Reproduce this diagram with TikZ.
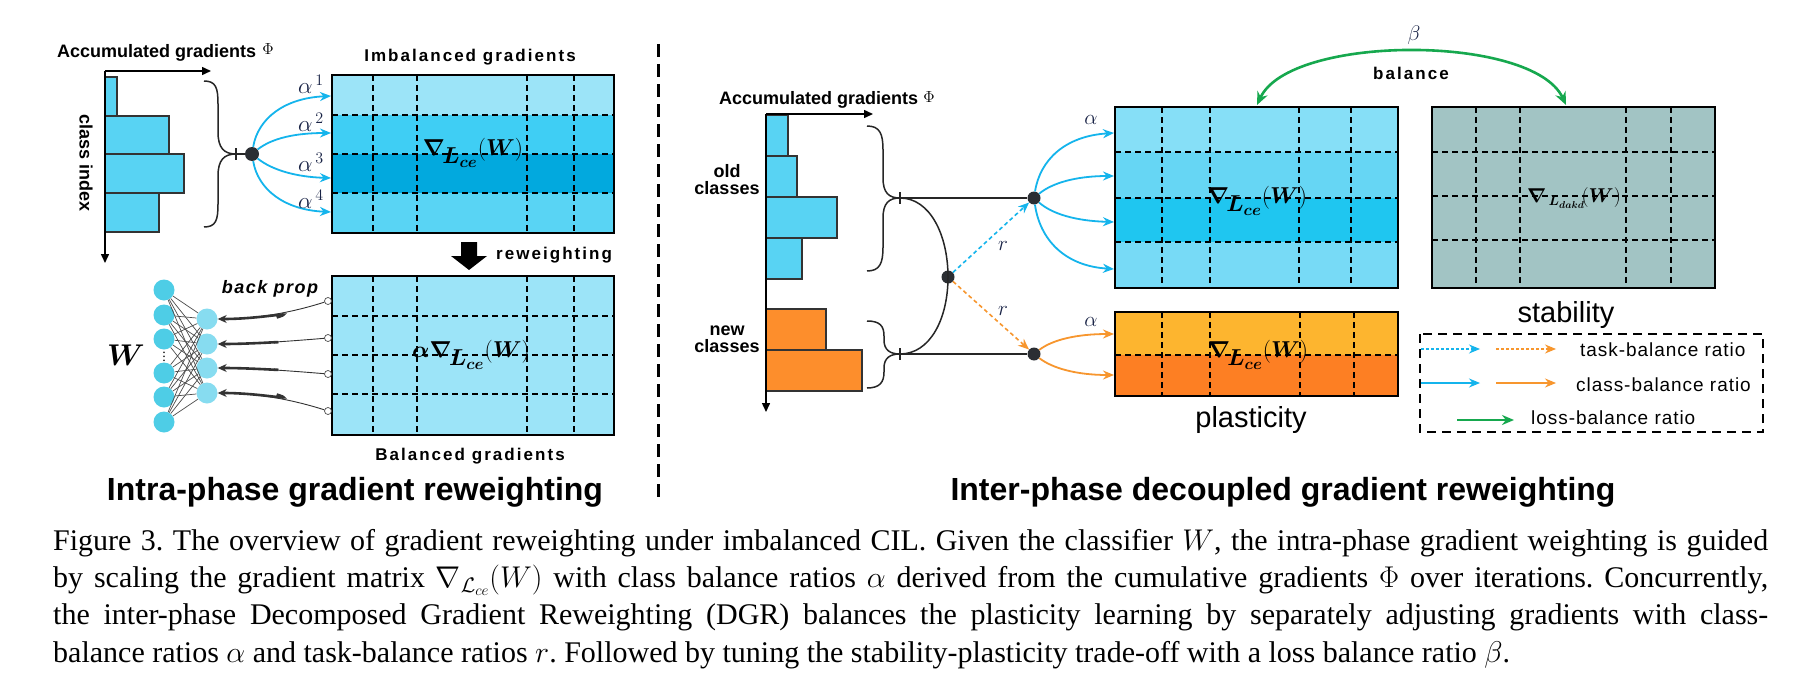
\RequirePackage{fix-cm}
\documentclass[tikz,border=0pt]{standalone}
\usepackage{amsmath,amssymb}
\usepackage{fontspec}
\setmainfont{Liberation Serif}
\setsansfont{Liberation Sans}
\usetikzlibrary{arrows.meta,calc}
\definecolor{cblue}{RGB}{20,180,236}
\definecolor{corange}{RGB}{247,150,46}
\definecolor{cgreen}{RGB}{22,168,78}
\definecolor{hblue}{RGB}{88,211,243}
\definecolor{horange}{RGB}{253,142,44}
\definecolor{dotc}{RGB}{43,46,51}
\definecolor{la}{RGB}{156,228,248}
\definecolor{lb}{RGB}{63,206,244}
\definecolor{lc}{RGB}{2,169,222}
\definecolor{ld}{RGB}{89,212,244}
\definecolor{ra}{RGB}{134,223,247}
\definecolor{rb}{RGB}{102,214,244}
\definecolor{rc}{RGB}{31,198,240}
\definecolor{rd}{RGB}{119,218,246}
\definecolor{oa}{RGB}{253,181,47}
\definecolor{ob}{RGB}{253,127,35}
\definecolor{gmat}{RGB}{162,196,196}
\definecolor{nin}{RGB}{78,205,230}
\definecolor{nout}{RGB}{135,220,240}
\definecolor{lbl}{RGB}{25,35,70}
\newcommand\fsz[1]{\fontsize{#1}{#1}\selectfont}
\newcommand\lsp{\addfontfeature{LetterSpace=12}}
\newcommand\gradsub{_{\!\textstyle\boldsymbol{L}_{\boldsymbol{ce}}}}
\newcommand\gradce{$\boldsymbol{\nabla}\gradsub(\boldsymbol{W})$}
\begin{document}
\begin{tikzpicture}[x=1pt,y=-1pt,
  mat/.style={draw=black, line width=2.6pt, inner sep=0pt, outer sep=0pt, anchor=north west, minimum width=282pt},
  grd/.style={black, line width=1.4pt, dash pattern=on 6pt off 4pt},
  hbar/.style={draw=black!80, line width=1.4pt},
  dotn/.style={circle, fill=dotc, inner sep=0pt, minimum size=13pt},
  conn/.style={black!85, line width=1.5pt},
  brace/.style={black!85, line width=1.5pt},
  axisarr/.style={black, line width=1.5pt, -{Triangle[length=9pt,width=8pt]}},
  barr/.style={cblue, line width=1.8pt, -{Stealth[length=11pt,width=9pt]}},
  oarr/.style={corange, line width=1.8pt, -{Stealth[length=11pt,width=9pt]}},
  bdash/.style={cblue, line width=1.6pt, dash pattern=on 4pt off 3pt, -{Stealth[length=11pt,width=9pt]}},
  odash/.style={corange, line width=1.6pt, dash pattern=on 4pt off 3pt, -{Stealth[length=11pt,width=9pt]}},
  garr/.style={cgreen, line width=2.6pt, {Stealth[length=13pt,width=11pt]}-{Stealth[length=13pt,width=11pt]}},
  netl/.style={black!70, line width=0.7pt},
  bparr/.style={black!80, line width=0.9pt, -{Stealth[length=9pt,width=8pt]}},
  bpthick/.style={black!80, line width=2.6pt, shorten <=50pt, shorten >=6pt},
  hd/.style={font=\sffamily\bfseries\fsz{17}\lsp, inner sep=0pt},
  mlab/.style={text=lbl, inner sep=0pt, font=\fsz{23}},
  mtx/.style={inner sep=0pt, font=\fsz{23}},
  legtxt/.style={font=\sffamily\fsz{19}\addfontfeature{LetterSpace=5}, inner sep=0pt, anchor=base west}
]
\useasboundingbox[fill=white] (0,0) rectangle (1804,677);

%================ LEFT PANEL =================
\draw[hbar, fill=hblue] (105,77) rectangle (117,116);
\draw[hbar, fill=hblue] (105,116) rectangle (169,154);
\draw[hbar, fill=hblue] (105,154) rectangle (184,193);
\draw[hbar, fill=hblue] (105,193) rectangle (159,232);
\coordinate (O0) at (105,71);
\coordinate (X0) at (211,71);
\coordinate (Y0) at (105,263);
\draw[axisarr] (O0) -- (X0);
\draw[axisarr] (O0) -- (Y0);
\node[font=\sffamily\bfseries\fsz{18}, inner sep=0pt, anchor=base west] (acc1) at (57,58) {Accumulated gradients};
\node[inner sep=0pt, font=\fsz{16}] (phi1) at (268,49) {$\Phi$};
\node[font=\sffamily\bfseries\fsz{18}, inner sep=0pt, rotate=-90] (ci) at (86,163) {class index};
\coordinate (T0) at (236,154);
\draw[brace] (204,81) .. controls (216,81) and (218,88) .. (218,104) -- (218,132) .. controls (218,148) and (224,154) .. (T0)
  .. controls (224,154) and (218,160) .. (218,176) -- (218,204) .. controls (218,220) and (216,227) .. (204,227);
\draw[brace] (236,148) -- (236,160);
\node[dotn, minimum size=14pt] (D1) at (252,154) {};
\draw[conn] (T0) -- (D1);
% top matrix
\fill[la] (332,75) rectangle (614,115);
\fill[lb] (332,115) rectangle (614,154);
\fill[lc] (332,154) rectangle (614,193);
\fill[ld] (332,193) rectangle (614,233);
\foreach \yy in {115,154,193} \draw[grd] (332,\yy) -- (614,\yy);
\foreach \xx in {373,417,527,574} \draw[grd] (\xx,75) -- (\xx,233);
\node[mat, minimum height=158pt] (M1) at (332,75) {};
\node[hd, anchor=base] (imb) at (470,62) {Imbalanced gradients};
\node[mtx] (g1) at (473,153) {\gradce};
\coordinate (a1) at (331,96);
\coordinate (a2) at (331,133);
\coordinate (a3) at (331,178);
\coordinate (a4) at (331,212);
\draw[barr] (D1) .. controls (258,118) and (285,98) .. (a1);
\draw[barr] (D1) .. controls (272,138) and (296,133) .. (a2);
\draw[barr] (D1) .. controls (272,170) and (296,177) .. (a3);
\draw[barr] (D1) .. controls (258,190) and (285,210) .. (a4);
\node[mlab] (al1) at (311,84) {$\alpha^{\,1}$};
\node[mlab] (al2) at (311,122) {$\alpha^{\,2}$};
\node[mlab] (al3) at (311,162) {$\alpha^{\,3}$};
\node[mlab] (al4) at (311,199) {$\alpha^{\,4}$};
\fill[black] (461,242) -- (477,242) -- (477,256) -- (487,256) -- (469,270) -- (451,256) -- (461,256) -- cycle;
\node[hd, anchor=base west] (rw) at (496,259) {reweighting};
% bottom matrix
\fill[la] (332,276) rectangle (614,435);
\foreach \yy in {316,355,394} \draw[grd] (332,\yy) -- (614,\yy);
\foreach \xx in {373,417,527,574} \draw[grd] (\xx,276) -- (\xx,435);
\node[mat, minimum height=159pt] (M2) at (332,276) {};
\node[mtx] (g2) at (471,355) {$\boldsymbol{\alpha}\boldsymbol{\nabla}\gradsub(\boldsymbol{W})$};
\node[hd, anchor=base] (bal) at (470,460) {Balanced gradients};
% network
\foreach \i/\yy in {1/290,2/315,3/339,4/373,5/397,6/422}
  \node[circle, fill=nin, inner sep=0pt, minimum size=21pt] (I\i) at (164,\yy) {};
\foreach \o/\yy in {1/319,2/344,3/368,4/393}
  \node[circle, fill=nout, inner sep=0pt, minimum size=21pt] (Q\o) at (207,\yy) {};
\foreach \i in {1,...,6} \foreach \o in {1,...,4} \draw[netl] (I\i) -- (Q\o);
\node[inner sep=0pt, font=\fsz{14}] (vd) at (164,354) {$\vdots$};
\node[inner sep=0pt, font=\fsz{30}] (Wl) at (126,355) {$\boldsymbol{W}$};
\node[font=\sffamily\bfseries\itshape\fsz{18}\addfontfeature{LetterSpace=8}, inner sep=0pt, anchor=base] (bp) at (270,293) {back prop};
\foreach \c/\yy in {1/301,2/338,3/374,4/411}
  \node[circle, draw=black!70, fill=white, line width=0.7pt, inner sep=0pt, minimum size=7pt] (C\c) at (328,\yy) {};
\draw[bparr] (C1) .. controls (300,310) and (262,319) .. (Q1);
\draw[bparr] (C2) .. controls (292,341) and (252,344) .. (Q2);
\draw[bparr] (C3) .. controls (292,371) and (252,368) .. (Q3);
\draw[bparr] (C4) .. controls (300,402) and (262,393) .. (Q4);
\draw[bpthick] (C1) .. controls (300,310) and (262,319) .. (Q1);
\draw[bpthick] (C2) .. controls (292,341) and (252,344) .. (Q2);
\draw[bpthick] (C3) .. controls (292,371) and (252,368) .. (Q3);
\draw[bpthick] (C4) .. controls (300,402) and (262,393) .. (Q4);
\node[font=\sffamily\bfseries\fsz{32}, inner sep=0pt, anchor=base] (t1) at (355,500) {Intra-phase gradient reweighting};

% divider
\coordinate (dv1) at (658,44);
\coordinate (dv2) at (658,497);
\draw[line width=3pt, dash pattern=on 13pt off 7pt] (dv1) -- (dv2);

%================ RIGHT PANEL =================
\draw[hbar, fill=hblue] (766,115) rectangle (788,156);
\draw[hbar, fill=hblue] (766,156) rectangle (797,197);
\draw[hbar, fill=hblue] (766,197) rectangle (837,238);
\draw[hbar, fill=hblue] (766,238) rectangle (802,279);
\draw[hbar, fill=horange] (766,309) rectangle (826,350);
\draw[hbar, fill=horange] (766,350) rectangle (862,391);
\coordinate (O1) at (766,114);
\coordinate (X1) at (873,114);
\coordinate (Y1) at (766,412);
\draw[axisarr] (O1) -- (X1);
\draw[axisarr] (O1) -- (Y1);
\node[font=\sffamily\bfseries\fsz{18}, inner sep=0pt, anchor=base west] (acc2) at (719,104) {Accumulated gradients};
\node[inner sep=0pt, font=\fsz{16}] (phi2) at (929,97) {$\Phi$};
\node[font=\sffamily\bfseries\fsz{18}, align=center, inner sep=0pt, anchor=base] (oc) at (727,194) {old\\[-1pt]classes};
\node[font=\sffamily\bfseries\fsz{18}, align=center, inner sep=0pt, anchor=base] (nc) at (727,352) {new\\[-1pt]classes};
\coordinate (T1) at (900,198);
\coordinate (T2) at (900,354);
\draw[brace] (867,126) .. controls (880,126) and (883,134) .. (883,150) -- (883,178) .. controls (883,193) and (889,198) .. (T1)
  .. controls (889,198) and (883,203) .. (883,218) -- (883,247) .. controls (883,263) and (880,271) .. (867,271);
\draw[brace] (867,321) .. controls (880,321) and (884,326) .. (884,336) -- (884,340) .. controls (884,350) and (890,354) .. (T2)
  .. controls (890,354) and (884,358) .. (884,368) -- (884,372) .. controls (884,382) and (880,388) .. (867,388);
\draw[brace] (900,192) -- (900,204);
\draw[brace] (900,348) -- (900,360);
\node[dotn] (J) at (948,277) {};
\node[dotn] (D2) at (1034,198) {};
\node[dotn] (D3) at (1034,354) {};
\draw[conn] (T1) .. controls (930,198) and (948,235) .. (J.center) .. controls (948,319) and (930,354) .. (T2);
\draw[conn] (T1) -- (D2);
\draw[conn] (T2) -- (D3);
\draw[bdash] (J) -- (D2);
\draw[odash] (J) -- (D3);
\node[mlab, font=\fsz{21}] (r1) at (1003,246) {$r$};
\node[mlab, font=\fsz{21}] (r2) at (1003,311) {$r$};
% blue matrix
\fill[ra] (1115,107) rectangle (1398,152);
\fill[rb] (1115,152) rectangle (1398,198);
\fill[rc] (1115,198) rectangle (1398,242);
\fill[rd] (1115,242) rectangle (1398,288);
\foreach \yy in {152,198,242} \draw[grd] (1115,\yy) -- (1398,\yy);
\foreach \xx in {1162,1210,1299,1351} \draw[grd] (\xx,107) -- (\xx,288);
\node[mat, minimum width=283pt, minimum height=181pt] (M3) at (1115,107) {};
\node[mtx] (g3) at (1257,201) {\gradce};
\coordinate (b1) at (1114,133);
\coordinate (b2) at (1114,176);
\coordinate (b3) at (1114,222);
\coordinate (b4) at (1114,269);
\draw[barr] (D2) .. controls (1040,160) and (1065,136) .. (b1);
\draw[barr] (D2) .. controls (1052,183) and (1076,176) .. (b2);
\draw[barr] (D2) .. controls (1052,214) and (1076,221) .. (b3);
\draw[barr] (D2) .. controls (1040,240) and (1065,266) .. (b4);
\node[mlab, font=\fsz{21}] (al5) at (1091,120) {$\alpha$};
% orange matrix
\fill[oa] (1115,312) rectangle (1398,355);
\fill[ob] (1115,355) rectangle (1398,396);
\draw[grd] (1115,355) -- (1398,355);
\foreach \xx in {1162,1210,1300,1354} \draw[grd] (\xx,312) -- (\xx,396);
\node[mat, minimum width=283pt, minimum height=84pt] (M4) at (1115,312) {};
\node[mtx] (g4) at (1258,355) {\gradce};
\coordinate (c1) at (1114,334);
\coordinate (c2) at (1114,375);
\draw[oarr] (D3) .. controls (1052,340) and (1076,334) .. (c1);
\draw[oarr] (D3) .. controls (1052,368) and (1076,375) .. (c2);
\node[mlab, font=\fsz{21}] (al6) at (1091,322) {$\alpha$};
\node[font=\sffamily\fsz{29}, inner sep=0pt, anchor=base] (pl) at (1251,427) {plasticity};
% grey matrix
\fill[gmat] (1432,107) rectangle (1715,288);
\foreach \yy in {152,196,240} \draw[grd] (1432,\yy) -- (1715,\yy);
\foreach \xx in {1476,1520,1626,1671} \draw[grd] (\xx,107) -- (\xx,288);
\node[mat, minimum width=283pt, minimum height=181pt] (M5) at (1432,107) {};
\node[inner sep=0pt, font=\fsz{20}] (g5) at (1574,198) {$\boldsymbol{\nabla}_{\,\boldsymbol{L}_{\boldsymbol{dakd}}}\!(\boldsymbol{W})$};
\node[font=\sffamily\fsz{29}, inner sep=0pt, anchor=base] (st) at (1566,322) {stability};
% balance arrow
\coordinate (G1) at (1257,105);
\coordinate (G2) at (1566,105);
\draw[garr] (G1) .. controls (1290,34) and (1533,34) .. (G2);
\node[mlab, font=\fsz{21}] (be) at (1414,35) {$\beta$};
\node[hd, anchor=base] (balw) at (1411,79) {balance};
% legend
\draw[line width=1.5pt, dash pattern=on 9pt off 6pt] (1420,334) rectangle (1763,432);
\coordinate (l1a) at (1421,349); \coordinate (l1b) at (1480,349);
\coordinate (l2a) at (1496,349); \coordinate (l2b) at (1556,349);
\coordinate (l3a) at (1421,383); \coordinate (l3b) at (1480,383);
\coordinate (l4a) at (1496,383); \coordinate (l4b) at (1556,383);
\coordinate (l5a) at (1457,420); \coordinate (l5b) at (1514,420);
\draw[bdash, line width=1.3pt, dash pattern=on 3pt off 2pt] (l1a) -- (l1b);
\draw[odash, line width=1.3pt, dash pattern=on 3pt off 2pt] (l2a) -- (l2b);
\draw[barr, line width=1.4pt] (l3a) -- (l3b);
\draw[oarr, line width=1.4pt] (l4a) -- (l4b);
\draw[cgreen, line width=2.6pt, -{Stealth[length=12pt,width=10pt]}] (l5a) -- (l5b);
\node[legtxt] (lt1) at (1580,356) {task-balance ratio};
\node[legtxt] (lt2) at (1576,391) {class-balance ratio};
\node[legtxt] (lt3) at (1531,424) {loss-balance ratio};
\node[font=\sffamily\bfseries\fsz{32}, inner sep=0pt, anchor=base] (t2) at (1283,500) {Inter-phase decoupled gradient reweighting};

%================ CAPTION =================
\node[anchor=north west, inner sep=0pt, text width=1715pt, align=justify, font=\fontsize{30}{37.3}\selectfont] (cap) at (53,529)
{\frenchspacing\hyphenpenalty=10000 Figure 3. The overview of gradient reweighting under imbalanced CIL. Given the classifier $W$, the intra-phase gradient weighting is guided\linebreak
by scaling the gradient matrix $\nabla_{\mathcal{L}_{ce}}(W)$ with class balance ratios $\alpha$ derived from the cumulative gradients $\Phi$ over iterations. Concurrently,\linebreak
the inter-phase Decomposed Gradient Reweighting (DGR) balances the plasticity learning by separately adjusting gradients with class-\linebreak
balance ratios $\alpha$ and task-balance ratios $r$. Followed by tuning the stability-plasticity trade-off with a loss balance ratio $\beta$.};
\end{tikzpicture}
\end{document}
